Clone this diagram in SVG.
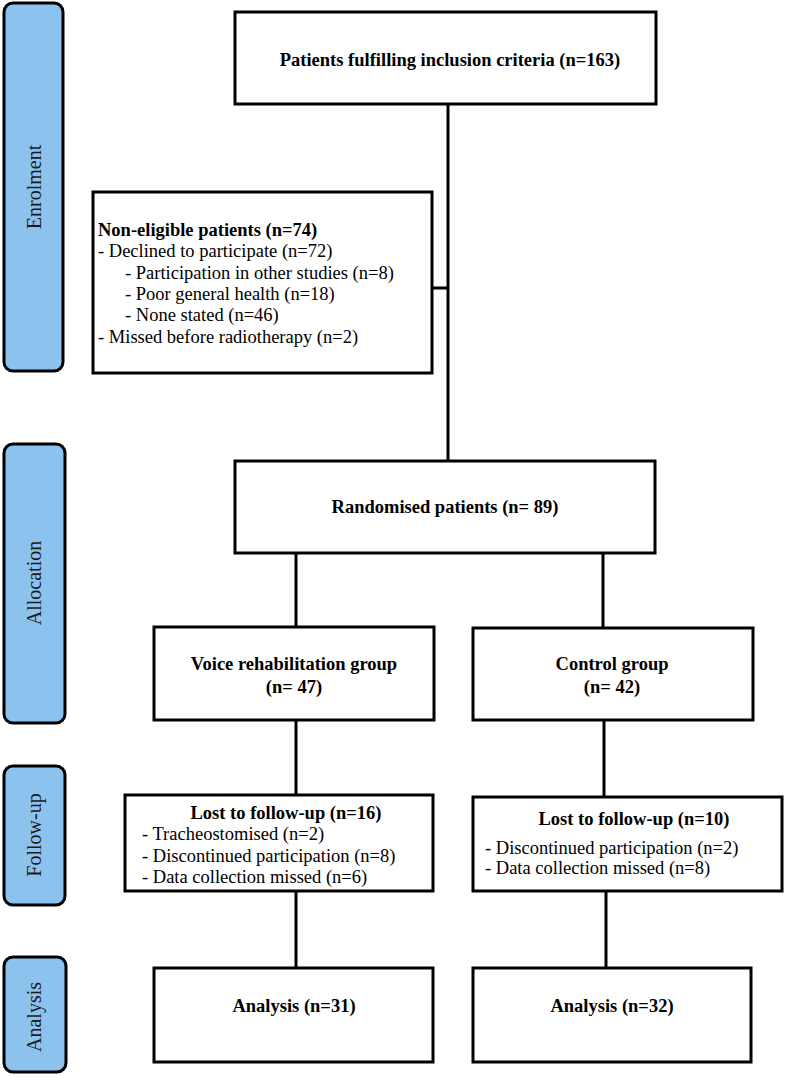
<svg xmlns="http://www.w3.org/2000/svg" width="785" height="1077" viewBox="0 0 785 1077">
<style>
.bar{fill:#8cc3ee;stroke:#000;stroke-width:3}
.box{fill:#fff;stroke:#000;stroke-width:3}
.lbl{font-family:"Liberation Serif","Times New Roman",serif;font-size:20px;fill:#1a1a1a}
.b{font-family:"Liberation Serif","Times New Roman",serif;font-size:18.5px;font-weight:bold;fill:#000}
.t{font-family:"Liberation Serif","Times New Roman",serif;font-size:18.5px;fill:#000}
.c{text-anchor:middle}
.ln{stroke:#000;stroke-width:3;fill:none}
</style>
<rect width="785" height="1077" fill="#fff"/>
<g id="bar-enrolment"><rect class="bar" x="4" y="3" width="59" height="368" rx="9"/><text class="lbl c" transform="translate(41,187) rotate(-90)">Enrolment</text></g>
<g id="bar-allocation"><rect class="bar" x="4" y="444" width="61" height="279" rx="9"/><text class="lbl c" transform="translate(41,583) rotate(-90)">Allocation</text></g>
<g id="bar-followup"><rect class="bar" x="4" y="766" width="61" height="139" rx="9"/><text class="lbl c" transform="translate(41,835) rotate(-90)">Follow-up</text></g>
<g id="bar-analysis"><rect class="bar" x="4" y="957" width="62" height="115" rx="9"/><text class="lbl c" transform="translate(41,1017) rotate(-90)">Analysis</text></g>
<g id="connectors">
<path class="ln" d="M448 104V461M432 288H448"/>
<path class="ln" d="M296 553V627M603 553V628"/>
<path class="ln" d="M296 720V795M604 720V797"/>
<path class="ln" d="M296 891V968M606 891V968"/>
</g>
<g id="n-inclusion"><rect class="box" x="235" y="12" width="421" height="92"/><text class="b c" x="450" y="66">Patients fulfilling inclusion criteria (n=163)</text></g>
<g id="n-noneligible"><rect class="box" x="93" y="192" width="339" height="181"/>
<text class="b" x="98" y="235.5">Non-eligible patients (n=74)</text>
<text class="t" x="98" y="257">- Declined to participate (n=72)</text>
<text class="t" x="125" y="278.5">- Participation in other studies (n=8)</text>
<text class="t" x="125" y="300">- Poor general health (n=18)</text>
<text class="t" x="125" y="321">- None stated (n=46)</text>
<text class="t" x="98" y="342.5">- Missed before radiotherapy (n=2)</text>
</g>
<g id="n-randomised"><rect class="box" x="235" y="461" width="420" height="92"/><text class="b c" x="445" y="513">Randomised patients (n= 89)</text></g>
<g id="n-voice"><rect class="box" x="154" y="627" width="280" height="93"/><text class="b c" x="294" y="670">Voice rehabilitation group</text><text class="b c" x="294" y="693">(n= 47)</text></g>
<g id="n-control"><rect class="box" x="473" y="628" width="280" height="92"/><text class="b c" x="612" y="670">Control group</text><text class="b c" x="612" y="693">(n= 42)</text></g>
<g id="n-lost-voice"><rect class="box" x="125" y="795" width="308" height="96"/>
<text class="b c" x="286" y="819">Lost to follow-up (n=16)</text>
<text class="t" x="142" y="840">- Tracheostomised (n=2)</text>
<text class="t" x="142" y="861.5">- Discontinued participation (n=8)</text>
<text class="t" x="142" y="883">- Data collection missed (n=6)</text>
</g>
<g id="n-lost-control"><rect class="box" x="473" y="797" width="309" height="94"/>
<text class="b c" x="634" y="825">Lost to follow-up (n=10)</text>
<text class="t" x="485" y="854">- Discontinued participation (n=2)</text>
<text class="t" x="485" y="874">- Data collection missed (n=8)</text>
</g>
<g id="n-analysis-voice"><rect class="box" x="154" y="968" width="279" height="94"/><text class="b c" x="294" y="1012">Analysis (n=31)</text></g>
<g id="n-analysis-control"><rect class="box" x="473" y="968" width="278" height="94"/><text class="b c" x="612" y="1012">Analysis (n=32)</text></g>
</svg>
